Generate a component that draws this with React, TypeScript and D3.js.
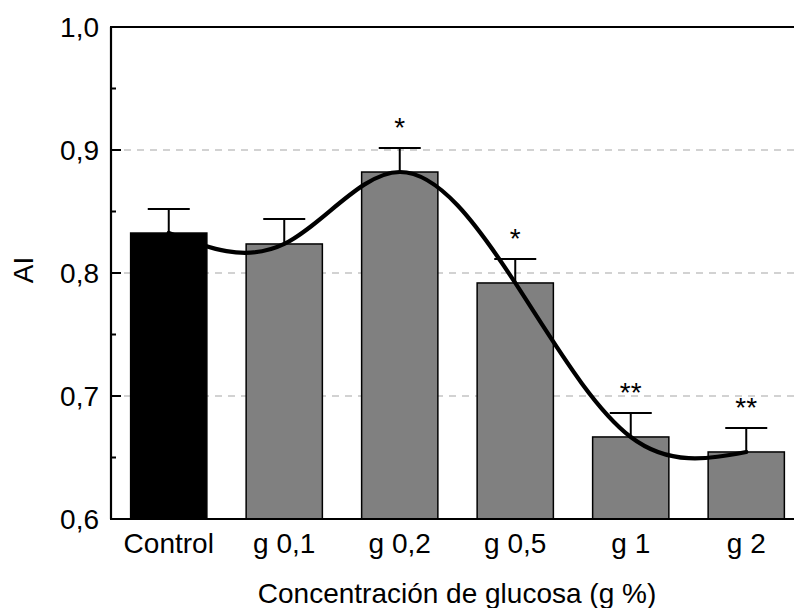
import { useEffect, useRef } from 'react'
import * as d3 from 'd3'

const CATEGORIES = ['Control', 'g 0,1', 'g 0,2', 'g 0,5', 'g 1', 'g 2']
const VALUES = [0.8325, 0.8236, 0.8821, 0.7919, 0.6667, 0.6545]
const ERRORS = [0.0195, 0.0203, 0.0195, 0.0195, 0.0195, 0.0195]
const SIGNIF = ['', '', '*', '*', '**', '**']
const MAJOR_TICKS = [0.6, 0.7, 0.8, 0.9, 1.0]
const MINOR_TICKS = [0.65, 0.75, 0.85, 0.95]
const GRID_LINES = [0.7, 0.8, 0.9]

const W = 794, H = 608
const FONT = 'Liberation Sans, Arial, Helvetica, sans-serif'
const FS = '28px'

export default function App() {
  const ref = useRef<SVGSVGElement | null>(null)
  useEffect(() => {
    if (!ref.current) return
    const svg = d3.select(ref.current)
    svg.selectAll('*').remove()
    const left = 111, top = 27, bottom = 519
    const x = d3.scaleBand<string>().domain(CATEGORIES).range([left, left + 6 * 115.5]).paddingInner(0.34).paddingOuter(0.17)
    const y = d3.scaleLinear().domain([0.6, 1.0]).range([bottom, top])
    const fmt = (v: number) => d3.format('.1f')(v).replace('.', ',')
    const rows = CATEGORIES.map((c, i) => ({ c, v: VALUES[i], e: ERRORS[i], s: SIGNIF[i], i }))

    // grid
    svg.append('g').selectAll('line').data(GRID_LINES).join('line')
      .attr('x1', left).attr('x2', W).attr('y1', d => y(d)).attr('y2', d => y(d))
      .attr('stroke', '#c4c4c4').attr('stroke-width', 1.3).attr('stroke-dasharray', '7,6')

    // error bars
    const eb = svg.append('g').attr('stroke', '#000').attr('stroke-width', 2)
    rows.forEach(r => {
      const cx = x(r.c)! + x.bandwidth() / 2
      eb.append('line').attr('x1', cx).attr('x2', cx).attr('y1', y(r.v)).attr('y2', y(r.v + r.e))
      eb.append('line').attr('x1', cx - 21).attr('x2', cx + 21).attr('y1', y(r.v + r.e)).attr('y2', y(r.v + r.e))
    })

    // bars
    svg.append('g').selectAll('rect').data(rows).join('rect')
      .attr('x', d => x(d.c)!).attr('width', x.bandwidth())
      .attr('y', d => y(d.v)).attr('height', d => bottom - y(d.v))
      .attr('fill', d => d.i === 0 ? '#000' : '#808080')
      .attr('stroke', '#000').attr('stroke-width', 1.5)

    // smooth curve through bar tops
    const line = d3.line<typeof rows[0]>()
      .x(d => x(d.c)! + x.bandwidth() / 2).y(d => y(d.v)).curve(d3.curveNatural)
    svg.append('path').attr('d', line(rows)).attr('fill', 'none')
      .attr('stroke', '#000').attr('stroke-width', 4.2).attr('stroke-linecap', 'round')

    // significance marks
    svg.append('g').selectAll('text').data(rows.filter(r => r.s)).join('text')
      .attr('x', d => x(d.c)! + x.bandwidth() / 2).attr('y', d => y(d.v + d.e) - 11)
      .attr('text-anchor', 'middle').style('font-family', FONT).style('font-size', FS)
      .text(d => d.s)

    // axes frame
    svg.append('line').attr('x1', left).attr('x2', left).attr('y1', top).attr('y2', bottom)
      .attr('stroke', '#000').attr('stroke-width', 2.2)
    svg.append('line').attr('x1', left - 1).attr('x2', W).attr('y1', top).attr('y2', top)
      .attr('stroke', '#000').attr('stroke-width', 2.2)
    svg.append('line').attr('x1', left - 1).attr('x2', W).attr('y1', bottom).attr('y2', bottom)
      .attr('stroke', '#000').attr('stroke-width', 2.2)

    // y ticks
    const yt = svg.append('g')
    yt.selectAll('line.maj').data(MAJOR_TICKS).join('line').attr('class', 'maj')
      .attr('x1', left).attr('x2', left + 10).attr('y1', d => y(d)).attr('y2', d => y(d))
      .attr('stroke', '#000').attr('stroke-width', 2)
    yt.selectAll('line.min').data(MINOR_TICKS).join('line').attr('class', 'min')
      .attr('x1', left).attr('x2', left + 5).attr('y1', d => y(d)).attr('y2', d => y(d))
      .attr('stroke', '#000').attr('stroke-width', 2)
    yt.selectAll('text').data(MAJOR_TICKS).join('text')
      .attr('x', 99).attr('y', d => y(d)).attr('dy', '0.36em').attr('text-anchor', 'end')
      .style('font-family', FONT).style('font-size', FS).text(d => fmt(d))

    // x labels
    svg.append('g').selectAll('text').data(CATEGORIES).join('text')
      .attr('x', d => x(d)! + x.bandwidth() / 2).attr('y', 553).attr('text-anchor', 'middle')
      .style('font-family', FONT).style('font-size', FS).text(d => d)

    svg.append('text').attr('x', 457).attr('y', 603).attr('text-anchor', 'middle')
      .style('font-family', FONT).style('font-size', FS).text('Concentración de glucosa (g %)')
    svg.append('text').attr('transform', 'translate(33,270) rotate(-90)').attr('text-anchor', 'middle')
      .style('font-family', FONT).style('font-size', FS).text('AI')
  }, [])
  return (
    <div style={{ position: 'fixed', left: 0, top: 0, width: W, height: H, background: '#fff' }}>
      <svg ref={ref} width={W} height={H} />
    </div>
  )
}
